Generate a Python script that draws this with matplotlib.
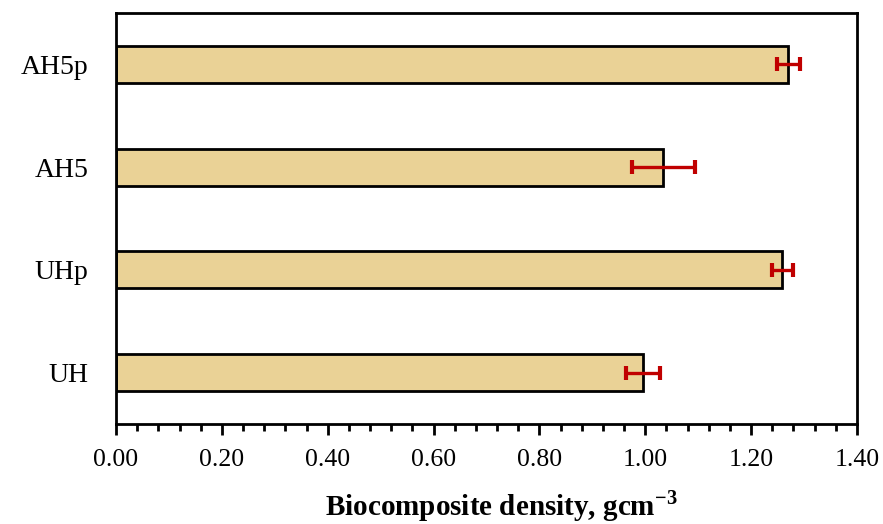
import matplotlib
matplotlib.use("Agg")
import matplotlib.pyplot as plt
from matplotlib.ticker import MultipleLocator, FormatStrFormatter

# Data
samples = ["UH", "UHp", "AH5", "AH5p"]
density = [0.995, 1.259, 1.034, 1.270]
density_err = [0.032, 0.020, 0.060, 0.022]

plt.rcParams["font.family"] = ["Liberation Serif", "DejaVu Serif"]
plt.rcParams["mathtext.fontset"] = "custom"
plt.rcParams["mathtext.rm"] = "Liberation Serif"
plt.rcParams["mathtext.bf"] = "Liberation Serif:bold"

fig = plt.figure(figsize=(8.83, 5.24), dpi=100)
ax = fig.add_axes([116 / 883, 1 - 424 / 524, (857 - 116) / 883, (424 - 13) / 524])

ax.barh(range(len(samples)), density, height=0.36, color="#EAD296",
        edgecolor="black", linewidth=2, zorder=2)
ax.errorbar(density, range(len(samples)), xerr=density_err, fmt="none",
            ecolor="#C00000", elinewidth=2.4, capsize=5, capthick=3, zorder=3)

ax.set_xlim(0, 1.4)
ax.set_ylim(-0.5, 3.5)
ax.set_yticks(range(len(samples)))
ax.set_yticklabels(samples, fontsize=20)
ax.tick_params(axis="y", length=0, pad=20)

ax.xaxis.set_major_locator(MultipleLocator(0.2))
ax.xaxis.set_minor_locator(MultipleLocator(0.04))
ax.xaxis.set_major_formatter(FormatStrFormatter("%.2f"))
ax.tick_params(axis="x", which="major", direction="out", length=8, width=2, labelsize=18.5, pad=10)
ax.tick_params(axis="x", which="minor", direction="out", length=5, width=2)

for s in ax.spines.values():
    s.set_linewidth(2)
    s.set_color("black")

ax.set_xlabel("Biocomposite density, gcm$^{\\mathbf{-3}}$", fontsize=21,
              fontweight="bold", labelpad=12)
ax.xaxis.label.set_x(0.52)

fig.savefig("out.png", dpi=100)
